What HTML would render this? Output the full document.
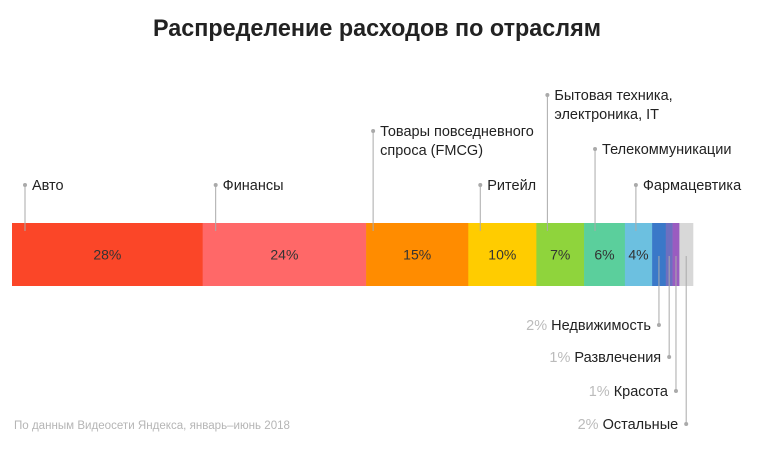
<!DOCTYPE html>
<html><head><meta charset="utf-8"><style>
body{margin:0;background:#fff;width:758px;height:453px;overflow:hidden}
svg{display:block;font-family:"Liberation Sans",sans-serif}
</style></head><body>
<svg id="c" width="758" height="453" viewBox="0 0 758 453" xmlns="http://www.w3.org/2000/svg">
<text x="153" y="36" font-size="24" font-weight="bold" fill="#222" textLength="448" lengthAdjust="spacingAndGlyphs">Распределение расходов по отраслям</text>
<text x="14" y="429" font-size="11.5" fill="#b5b5b5" textLength="276" lengthAdjust="spacingAndGlyphs">По данным Видеосети Яндекса, январь–июнь 2018</text>
<g id="bars"></g><g id="labels"></g>
</svg>
<script>
const categories=["Авто","Финансы","Товары повседневного|спроса (FMCG)","Ритейл","Бытовая техника,|электроника, IT","Телекоммуникации","Фармацевтика","Недвижимость","Развлечения","Красота","Остальные"];
const values=[28,24,15,10,7,6,4,2,1,1,2];
const valueLabels=["28%","24%","15%","10%","7%","6%","4%","2%","1%","1%","2%"];
const colors=["#fb4628","#ff6868","#ff8c00","#ffcc00","#8fd43c","#5bcf9c","#6cc0e0","#3a78c8","#6d6fc0","#9a5cc0","#d8d8d8"];
const topY=[190,190,136,190,100,154,190];
const botY=[330,362,396,429];
const gb=document.getElementById('bars'),gl=document.getElementById('labels');
const NS="http://www.w3.org/2000/svg";
const x0=12,x1=693,by=223,bh=63;
const total=values.reduce((a,b)=>a+b,0);
const xs=v=>x0+(x1-x0)*v/total;
function mk(t,a,p){const e=document.createElementNS(NS,t);for(const k in a)e.setAttribute(k,a[k]);(p||gl).appendChild(e);return e;}
let cum=0;
values.forEach((v,i)=>{
 const xa=xs(cum),xb=xs(cum+v);cum+=v;
 const r=mk('rect',{x:xa,y:by,width:xb-xa+0.3,height:bh,fill:colors[i]},gb);
 
 
 if(i<7){
  const t=mk('text',{x:(xa+xb)/2,y:by+bh/2+5,'font-size':14,'text-anchor':'middle',fill:'#333'},gb);
  t.textContent=valueLabels[i];
  
  
  const lxx=i<2?xa+13:(i==2?xa+7:(i==3?xa+12:xa+11));
  const ty=topY[i];
  const ln=mk('line',{x1:lxx,y1:ty-5,x2:lxx,y2:by+8,stroke:'#aaa','stroke-width':1});
  
  
  const d=mk('circle',{cx:lxx,cy:ty-5,r:2,fill:'#aaa'});
  
  
  categories[i].split('|').forEach((p,j)=>{
   const tt=mk('text',{x:lxx+7,y:ty+j*19,'font-size':14.5,fill:'#222'});
   tt.textContent=p;
   
   
  });
 } else {
  const k=i-7;
  const lxx=(xa+xb)/2;
  const ty=botY[k];
  const ln=mk('line',{x1:lxx,y1:by+bh-30,x2:lxx,y2:ty-5,stroke:'#aaa','stroke-width':1});
  
  
  const d=mk('circle',{cx:lxx,cy:ty-5,r:2,fill:'#aaa'});
  
  
  const tt=mk('text',{x:lxx-8,y:ty,'font-size':14.5,'text-anchor':'end',fill:'#222'});
  const s1=document.createElementNS(NS,'tspan');s1.setAttribute('fill','#bbb');s1.textContent=valueLabels[i]+' ';
  const s2=document.createElementNS(NS,'tspan');s2.textContent=categories[i];
  tt.appendChild(s1);tt.appendChild(s2);
  
  
 }
});
</script>
</body></html>
